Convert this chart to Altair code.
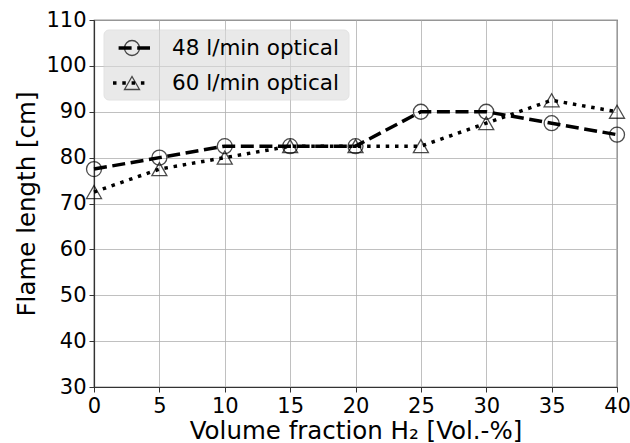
import altair as alt
import pandas as pd

x_vals = [0, 5, 10, 15, 20, 25, 30, 35, 40]
series_names = ["48 l/min optical", "60 l/min optical"]
flame_48 = [77.5, 80, 82.5, 82.5, 82.5, 90, 90, 87.5, 85]
flame_60 = [72.5, 77.5, 80, 82.5, 82.5, 82.5, 87.5, 92.5, 90]
x_ticks = list(range(0, 41, 5))
y_ticks = list(range(30, 111, 10))

df = pd.DataFrame({
    "x": x_vals * 2,
    "y": flame_48 + flame_60,
    "series": [series_names[0]] * len(x_vals) + [series_names[1]] * len(x_vals),
})

FONT = "DejaVu Sans"
dash_48 = [13, 5.6]
dash_60 = [3.5, 5.8]

xenc = alt.X("x:Q", scale=alt.Scale(domain=[0, 40], nice=False),
             axis=alt.Axis(values=x_ticks, title="Volume fraction H₂ [Vol.-%]"))
yenc = alt.Y("y:Q", scale=alt.Scale(domain=[30, 110], nice=False),
             axis=alt.Axis(values=y_ticks, title="Flame length [cm]"))

lines = alt.Chart(df).mark_line(color="black", strokeWidth=3.5, strokeCap="butt").encode(
    x=xenc, y=yenc,
    strokeDash=alt.StrokeDash("series:N", scale=alt.Scale(domain=series_names, range=[dash_48, dash_60]), legend=None),
    detail="series:N",
)
points = alt.Chart(df).mark_point(filled=False, color="black", size=225, strokeWidth=1.3).encode(
    x=xenc, y=yenc,
    shape=alt.Shape("series:N", scale=alt.Scale(domain=series_names, range=["circle", "triangle-up"]), legend=None),
)

# manual legend (matplotlib-like: line + marker + label)
one = alt.Data(values=[{}])
legend_box = alt.Chart(one).mark_rect(
    fill="#dcdcdc", opacity=0.6, stroke="#d0d0d0", strokeWidth=1, cornerRadius=5
).encode(x=alt.value(10), x2=alt.value(255), y=alt.value(10), y2=alt.value(80))

legend_layers = [legend_box]
rows = [(series_names[0], 28, dash_48, "circle", 13), (series_names[1], 63, dash_60, "triangle-up", 0)]
for name, ry, dash, shp, off in rows:
    d = alt.Data(values=[{"label": name}])
    legend_layers.append(
        alt.Chart(d).mark_rule(color="black", strokeWidth=3.5, strokeDash=dash, strokeCap="butt",
                               strokeDashOffset=off).encode(
            x=alt.value(19), x2=alt.value(56), y=alt.value(ry))
    )
    legend_layers.append(
        alt.Chart(d).mark_point(filled=False, color="black", size=225, strokeWidth=1.3, shape=shp).encode(
            x=alt.value(38), y=alt.value(ry))
    )
    legend_layers.append(
        alt.Chart(d).mark_text(align="left", baseline="middle", font=FONT, fontSize=21.5, color="black").encode(
            x=alt.value(78), y=alt.value(ry + 1), text="label:N")
    )

chart = alt.layer(lines, points, *legend_layers).properties(
    width=523, height=367,
    autosize=alt.AutoSizeParams(type="none"),
    padding={"left": 94, "top": 20, "right": 13, "bottom": 56},
).configure_view(
    stroke="#333333", strokeWidth=1.2
).configure_axis(
    labelFont=FONT, labelFontSize=21, labelColor="black",
    titleFont=FONT, titleFontSize=24.5, titleFontWeight="normal", titleColor="black",
    tickColor="#333333", tickSize=5, tickWidth=1,
    domainColor="#333333", domainWidth=1.2,
    gridColor="#b0b0b0", gridWidth=0.8, labelPadding=3,
).configure_axisX(
    titlePadding=3, labelFlush=False
).configure_axisY(
    titlePadding=6, labelFlush=False
)

chart.save("out.html", embed_options={"renderer": "svg", "actions": False})
